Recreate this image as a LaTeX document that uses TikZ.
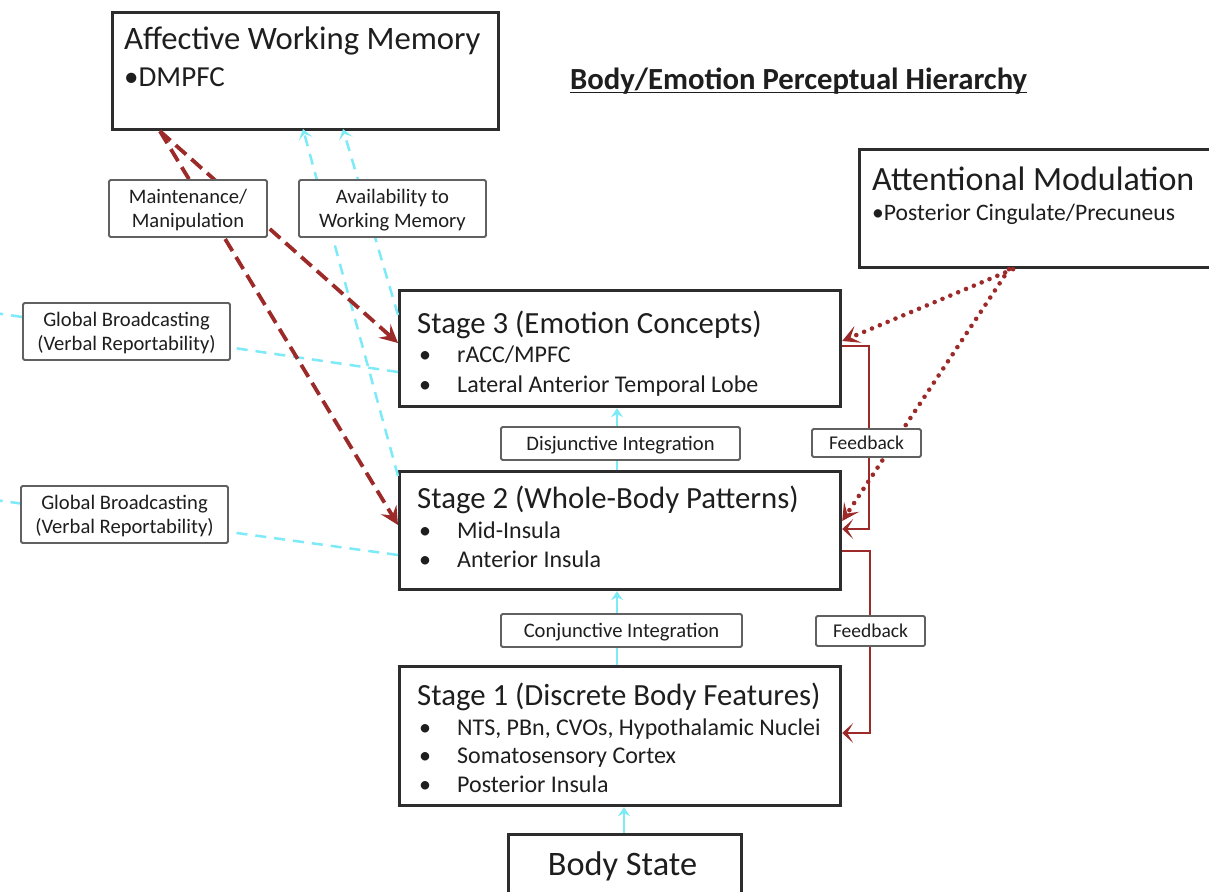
\documentclass[tikz,border=0pt]{standalone}
\usepackage{fontspec}
\setmainfont{Carlito}
\usetikzlibrary{arrows.meta}
\definecolor{dred}{RGB}{155,42,40}
\definecolor{lcyan}{RGB}{125,234,248}
\definecolor{bgray}{RGB}{45,45,45}
\definecolor{tgray}{RGB}{30,30,30}
\tikzset{
  bigbox/.style={draw=bgray, line width=3.2pt, fill=white, inner sep=0pt, anchor=north west},
  lab/.style={draw=black!62, line width=1.8pt, fill=white, rounded corners=1.5pt, inner sep=0pt,
    align=center, text=tgray, text depth=0pt, font=\fontsize{20.6}{23.5}\selectfont},
  ttl/.style={anchor=base west, inner sep=0pt, text=tgray, font=\fontsize{30.8}{36}\selectfont},
  itm/.style={anchor=base west, inner sep=0pt, text=tgray, font=\fontsize{24}{28}\selectfont},
  reddash/.style={draw=dred, line width=3.8pt, dash pattern=on 14pt off 7pt,
    -{Stealth[length=18pt,width=18pt,inset=7pt]}},
  cyandash/.style={draw=lcyan, line width=2.5pt, dash pattern=on 11pt off 8pt},
  cyanarrow/.style={draw=lcyan, line width=2.5pt, -{Stealth[length=9pt,width=12pt,inset=3pt]}},
  reddot/.style={draw=dred, line width=4.6pt, line cap=round, dash pattern=on 0pt off 8.5pt,
    -{Stealth[length=17pt,width=18pt,inset=8pt,line cap=butt,line width=3pt]}},
  fb/.style={draw=dred, line width=2.6pt, -{Stealth[length=11pt,width=20pt,inset=6pt]}},
}
\begin{document}
\begin{tikzpicture}[x=1pt,y=-1pt]
\useasboundingbox (0,0) rectangle (1209,891);
% main boxes
\node[bigbox, minimum width=386pt, minimum height=117pt] (awm) at (111,11) {};
\node[bigbox, minimum width=380pt, minimum height=118pt] (att) at (858,148) {};
\node[bigbox, minimum width=441pt, minimum height=116pt] (s3) at (398,289) {};
\node[bigbox, minimum width=441pt, minimum height=118pt] (s2) at (398,470) {};
\node[bigbox, minimum width=441pt, minimum height=139pt] (s1) at (398,665) {};
\node[bigbox, minimum width=233pt, minimum height=80pt] (body) at (507,833) {};
% texts
\node[ttl, font=\fontsize{32.7}{38}\selectfont] (awmt) at (124,49) {Affective Working Memory};
\node[ttl, font=\fontsize{29}{34}\selectfont] (awmi) at (124,86) {•DMPFC};
\node[anchor=base west, inner sep=0pt, text=tgray, font=\bfseries\fontsize{30.7}{35}\selectfont] (head) at (570,89) {Body/Emotion Perceptual Hierarchy};
\draw[line width=1.5pt, tgray] ([yshift=-3.5pt]head.base west) -- ([yshift=-3.5pt]head.base east);
\node[ttl, font=\fontsize{34}{40}\selectfont] (attt) at (872,190) {Attentional Modulation};
\node[itm, font=\fontsize{23.6}{28}\selectfont] (atti) at (872,220) {•Posterior Cingulate/Precuneus};
\node[ttl] (s3t) at (417,333) {Stage 3 (Emotion Concepts)};
\node[itm] (s3b1) at (419,362) {•};
\node[itm] (s3i1) at (457,362) {rACC/MPFC};
\node[itm] (s3b2) at (419,392) {•};
\node[itm] (s3i2) at (457,392) {Lateral Anterior Temporal Lobe};
\node[ttl] (s2t) at (417,508) {Stage 2 (Whole-Body Patterns)};
\node[itm] (s2b1) at (419,538) {•};
\node[itm] (s2i1) at (457,538) {Mid-Insula};
\node[itm] (s2b2) at (419,567) {•};
\node[itm] (s2i2) at (457,567) {Anterior Insula};
\node[ttl] (s1t) at (417,705) {Stage 1 (Discrete Body Features)};
\node[itm] (s1b1) at (419,735) {•};
\node[itm] (s1i1) at (457,735) {NTS, PBn, CVOs, Hypothalamic Nuclei};
\node[itm] (s1b2) at (419,763) {•};
\node[itm] (s1i2) at (457,763) {Somatosensory Cortex};
\node[itm] (s1b3) at (419,792) {•};
\node[itm] (s1i3) at (457,792) {Posterior Insula};
\node[anchor=base, inner sep=0pt, text=tgray, font=\fontsize{34.3}{40}\selectfont] (bodyt) at (622.5,875) {Body State};
% global broadcasting lines
\coordinate (gb1end) at (-5,313);
\coordinate (gb2end) at (-5,500);
\draw[cyandash] (s3.west |- 0,372) -- (gb1end);
\draw[cyandash] (s2.west |- 0,555) -- (gb2end);
% availability lines
\draw[cyandash, -{Stealth[length=10pt,width=14pt,inset=5pt]}] (s2.north west |- 0,476) -- (303,129);
\draw[cyandash, -{Stealth[length=10pt,width=14pt,inset=5pt]}] (s3.west |- 0,315) -- (343,129);
% feed-forward
\draw[cyanarrow] (s2.north -| 617,0) -- (s3.south -| 617,0);
\draw[cyanarrow] (s1.north -| 617,0) -- (s2.south -| 617,0);
\draw[cyanarrow] (body.north -| 624,0) -- (s1.south -| 624,0);
% maintenance
\draw[reddash] (awm.south west -| 160,0) -- (s3.west |- 0,343);
\draw[reddash] (awm.south west -| 160,0) -- (s2.west |- 0,525);
% attention
\draw[reddot] (att.south west -| 1013,0) -- (s3.east |- 0,341);
\draw[reddot] (att.south west -| 1009,0) -- (s2.east |- 0,521);
% feedback
\draw[fb] (s3.east |- 0,346) -| (869,440) |- (s2.east |- 0,529);
\draw[fb] (s2.east |- 0,551) -| (870,640) |- (s1.east |- 0,733);
% labels
\node[lab, minimum width=158pt, minimum height=57pt] (maint) at (188,208.5) {Maintenance/\\Manipulation};
\node[lab, minimum width=187pt, minimum height=57pt] (avail) at (392.5,208.5) {Availability to\\Working Memory};
\node[lab, minimum width=207pt, minimum height=57pt] (gb1) at (126.5,331.5) {Global Broadcasting\\(Verbal Reportability)};
\node[lab, minimum width=207pt, minimum height=57pt] (gb2) at (124.5,514.5) {Global Broadcasting\\(Verbal Reportability)};
\node[lab, minimum width=239pt, minimum height=33pt] (disj) at (620.5,443.5) {Disjunctive Integration};
\node[lab, minimum width=241pt, minimum height=33pt] (conj) at (621.5,630.5) {Conjunctive Integration};
\node[lab, font=\fontsize{19.5}{23}\selectfont, minimum width=109pt, minimum height=28pt] (fb1) at (866.5,443) {Feedback};
\node[lab, font=\fontsize{19.5}{23}\selectfont, minimum width=109pt, minimum height=30pt] (fb2) at (870.5,631) {Feedback};
\end{tikzpicture}
\end{document}
